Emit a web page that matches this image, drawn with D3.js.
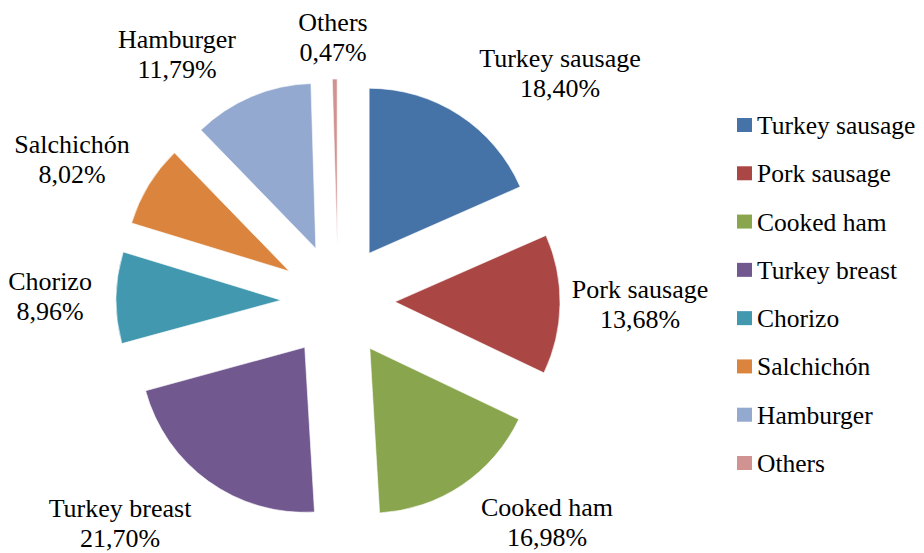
<!DOCTYPE html>
<html>
<head>
<meta charset="utf-8">
<script src="https://cdn.jsdelivr.net/npm/d3@7"></script>
<style>
  html, body { margin: 0; padding: 0; background: #fff; }
  svg { display: block; }
</style>
</head>
<body>
<svg id="chart" width="924" height="553"></svg>
<script>
// Product categories and their share (%)
const categories = ["Turkey sausage", "Pork sausage", "Cooked ham", "Turkey breast",
                    "Chorizo", "Salchichón", "Hamburger", "Others"];
const shares = [18.40, 13.68, 16.98, 21.70, 8.96, 8.02, 11.79, 0.47];
const shareLabels = ["18,40%", "13,68%", "16,98%", "21,70%", "8,96%", "8,02%", "11,79%", "0,47%"];
const palette = ["#4572A7", "#AA4643", "#89A54E", "#71588F", "#4198AF", "#DB843D", "#93A9CF", "#D19392"];

// Layout
const W = 924, H = 553;
const center = [338, 301];
const radius = 165;
const explode = 57;
const FONT = "'Liberation Serif'";
// Data label placement: [centre x, first baseline]
const labelPlacement = [[560, 67], [640, 298], [547, 516], [120, 517],
                        [50, 290], [72, 153], [177, 48], [333, 31]];
const lineGap = 30;

const svg = d3.select("#chart");

const data = categories.map((c, i) => ({ name: c, value: shares[i], label: shareLabels[i], color: palette[i] }));

const pie = d3.pie().value(d => d.value).sort(null);
const arc = d3.arc().innerRadius(0).outerRadius(radius);
const arcs = pie(data);

const g = svg.append("g").attr("transform", `translate(${center[0]},${center[1]})`);

// Exploded slices, each pushed out along its bisector
g.selectAll("path.slice")
  .data(arcs)
  .join("path")
  .attr("class", "slice")
  .attr("d", arc)
  .attr("fill", d => d.data.color)
  .attr("stroke", "#ffffff")
  .attr("stroke-opacity", 0.6)
  .attr("stroke-width", 1)
  .attr("transform", d => {
    const mid = (d.startAngle + d.endAngle) / 2;
    return `translate(${explode * Math.sin(mid)},${-explode * Math.cos(mid)})`;
  });

// Data labels: category name and percentage
const labels = svg.selectAll("g.dlabel")
  .data(arcs)
  .join("g")
  .attr("class", "dlabel")
  .attr("transform", (d, i) => `translate(${labelPlacement[i][0]},${labelPlacement[i][1]})`);

labels.append("text")
  .attr("text-anchor", "middle")
  .attr("font-family", FONT)
  .attr("font-size", 26)
  .attr("fill", "#000")
  .text(d => d.data.name);

labels.append("text")
  .attr("text-anchor", "middle")
  .attr("font-family", FONT)
  .attr("font-size", 26)
  .attr("fill", "#000")
  .attr("y", lineGap)
  .text(d => d.data.label);

// Legend
const legendY = d3.scalePoint().domain(categories).range([125, 463]);
const legend = svg.append("g").attr("class", "legend");
const items = legend.selectAll("g")
  .data(data)
  .join("g")
  .attr("transform", d => `translate(737,${legendY(d.name)})`);

items.append("rect")
  .attr("x", 0).attr("y", -7)
  .attr("width", 15).attr("height", 14)
  .attr("fill", d => d.color);

items.append("text")
  .attr("x", 20)
  .attr("y", 9)
  .attr("font-family", FONT)
  .attr("font-size", 25.5)
  .attr("fill", "#000")
  .text(d => d.name);
</script>
</body>
</html>
